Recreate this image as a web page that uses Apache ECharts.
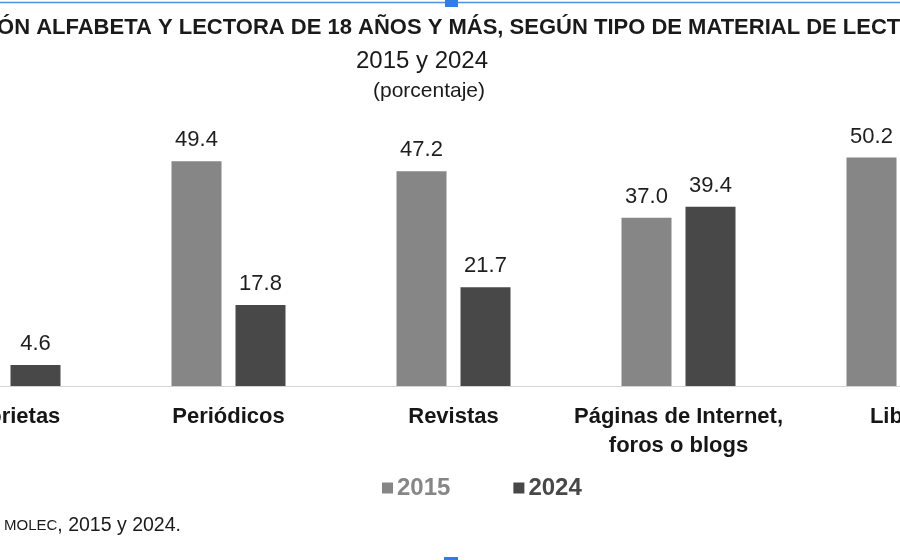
<!DOCTYPE html>
<html>
<head>
<meta charset="utf-8">
<script src="https://cdn.jsdelivr.net/npm/echarts@6/dist/echarts.min.js"></script>
<style>
  html, body { margin: 0; padding: 0; background: #fff; }
  #lectura { width: 900px; height: 560px; }
</style>
</head>
<body>
<div id="lectura"></div>
<script>
  // categorias y porcentajes (MOLEC 2015 y 2024)
  const categorias = ['Historietas', 'Periódicos', 'Revistas', 'Páginas de Internet,\nforos o blogs', 'Libros'];
  const anios = ['2015', '2024'];
  const valores2015 = [12.6, 49.4, 47.2, 37.0, 50.2];
  const valores2024 = [4.6, 17.8, 21.7, 39.4, 40.5];
  const colores = ['#868686', '#484848'];

  const fuente = 'Liberation Sans, Arial, sans-serif';

  const etiqueta = {
    show: true,
    position: 'top',
    distance: 10,
    color: '#1e1e1e',
    fontFamily: fuente,
    fontSize: 22,
    formatter: function (p) {
      return p.value.toFixed(1);
    }
  };

  const option = {
    animation: false,
    backgroundColor: '#fff',
    title: [
      {
        text: 'POBLACIÓN ALFABETA Y LECTORA DE 18 AÑOS Y MÁS, SEGÚN TIPO DE MATERIAL DE LECTURA',
        left: 418,
        top: 12,
        textAlign: 'center',
        textStyle: { fontFamily: fuente, fontSize: 22, fontWeight: 'bold', color: '#1a1a1a' }
      },
      {
        text: '2015 y 2024',
        left: 417,
        top: 44,
        textAlign: 'center',
        textStyle: { fontFamily: fuente, fontSize: 24, fontWeight: 'normal', color: '#1a1a1a' }
      },
      {
        text: '(porcentaje)',
        left: 424,
        top: 76,
        textAlign: 'center',
        textStyle: { fontFamily: fuente, fontSize: 21, fontWeight: 'normal', color: '#1a1a1a' }
      }
    ],
    legend: {
      left: 382,
      top: 476,
      padding: 0,
      itemWidth: 11,
      itemHeight: 11,
      itemGap: 63,
      icon: 'rect',
      data: [
        { name: anios[0], textStyle: { color: colores[0] } },
        { name: anios[1], textStyle: { color: colores[1] } }
      ],
      textStyle: { fontFamily: fuente, fontSize: 24, fontWeight: 'bold', padding: [0, 0, 0, -1] }
    },
    grid: {
      left: -109,
      right: -116,
      top: 113,
      bottom: 174,
      containLabel: false,
      outerBoundsMode: 'none'
    },
    xAxis: {
      type: 'category',
      data: categorias,
      axisTick: { show: false },
      axisLine: { lineStyle: { color: '#d4d4d4', width: 1 } },
      axisLabel: {
        interval: 0,
        margin: 16,
        fontFamily: fuente,
        fontSize: 22,
        fontWeight: 'bold',
        lineHeight: 29,
        color: '#161616'
      }
    },
    yAxis: {
      type: 'value',
      min: 0,
      max: 60,
      show: false,
      splitLine: { show: false }
    },
    series: [
      {
        name: anios[0],
        type: 'bar',
        data: valores2015,
        barWidth: 50,
        barGap: '28%',
        itemStyle: { color: colores[0] },
        label: etiqueta
      },
      {
        name: anios[1],
        type: 'bar',
        data: valores2024,
        barWidth: 50,
        barGap: '28%',
        itemStyle: { color: colores[1] },
        label: etiqueta
      }
    ],
    graphic: [
      {
        type: 'text',
        left: 4,
        top: 516,
        style: {
          text: '{s|MOLEC}, 2015 y 2024.',
          fontFamily: fuente,
          fontSize: 19.5,
          fill: '#1a1a1a',
          rich: { s: { fontFamily: fuente, fontSize: 15, fill: '#1a1a1a' } }
        }
      },
      // marco de seleccion del documento original
      {
        type: 'line',
        shape: { x1: 0, y1: 2.5, x2: 900, y2: 2.5 },
        style: { stroke: '#4d90e6', lineWidth: 1.5 }
      },
      {
        type: 'rect',
        shape: { x: 445, y: 0, width: 13, height: 7 },
        style: { fill: '#2f7ee3' }
      },
      {
        type: 'rect',
        shape: { x: 444, y: 557, width: 14, height: 4 },
        style: { fill: '#2f7ee3' }
      }
    ]
  };

  const chart = echarts.init(document.getElementById('lectura'));
  chart.setOption(option);
  window.addEventListener('resize', function () {
    chart.resize();
  });
</script>
</body>
</html>
